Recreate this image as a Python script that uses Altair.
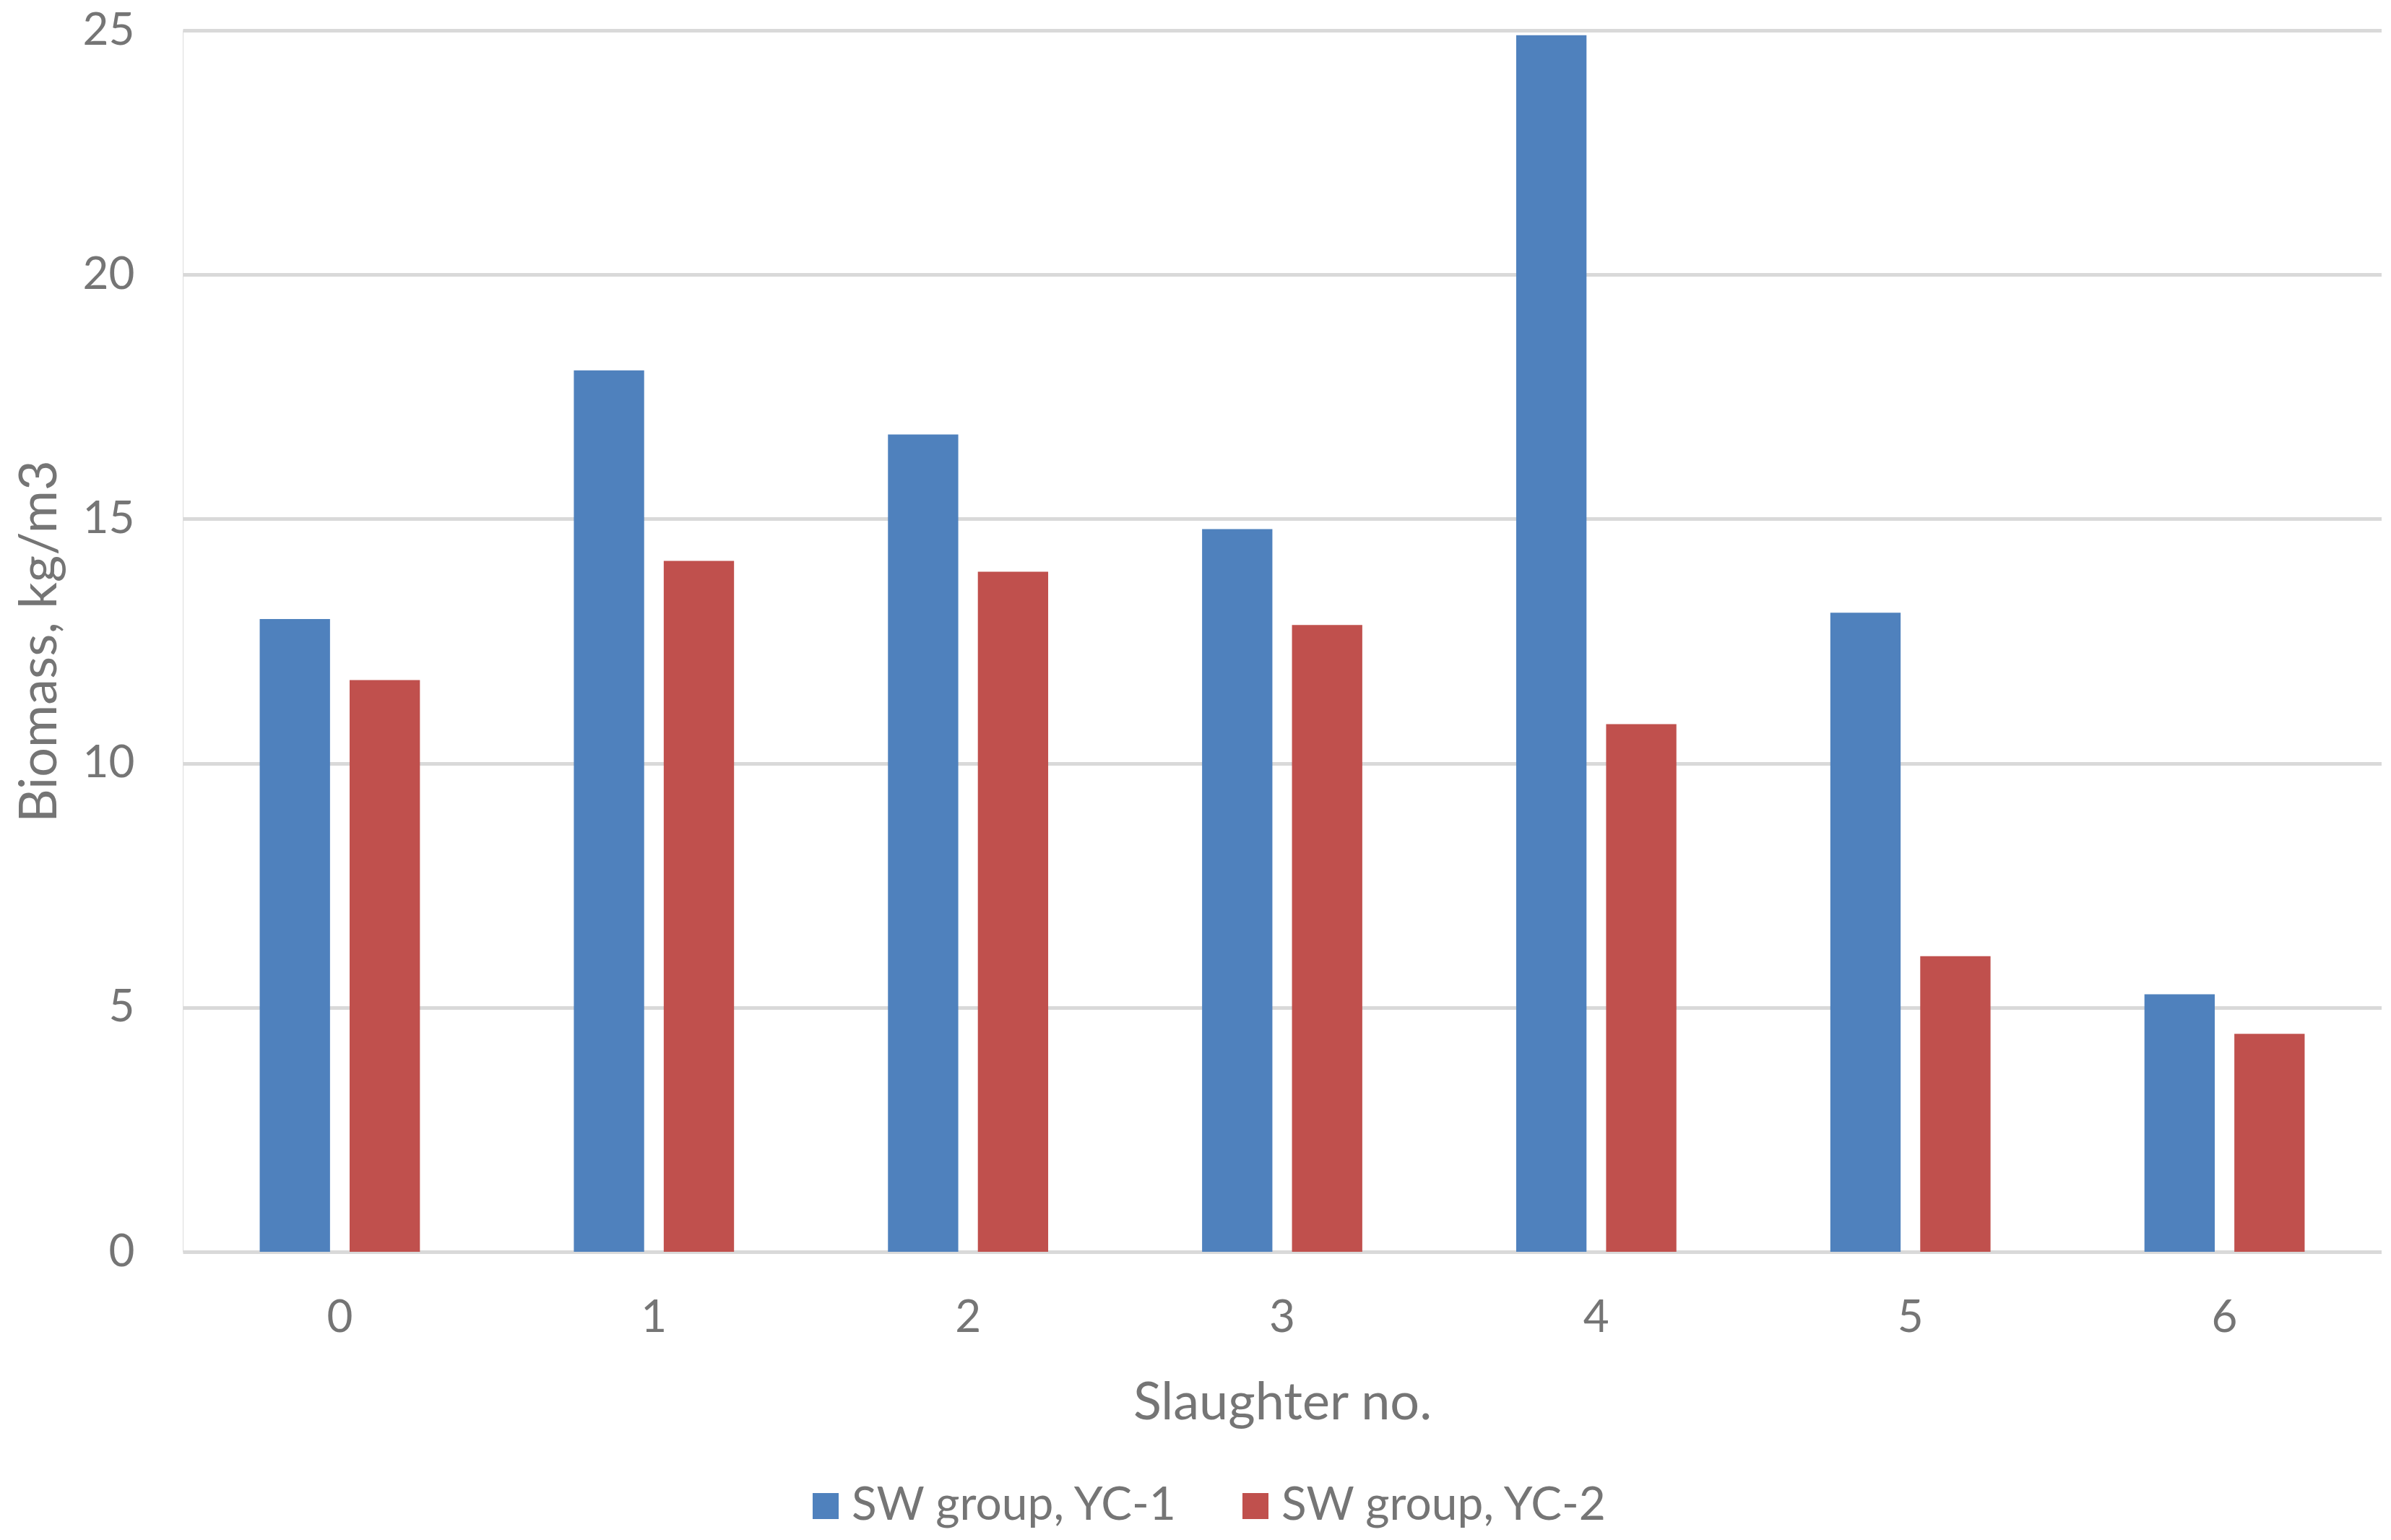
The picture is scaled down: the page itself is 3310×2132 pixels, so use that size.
import altair as alt
import pandas as pd

slaughter = ["0", "1", "2", "3", "4", "5", "6"]
series_names = ["SW group, YC-1", "SW group, YC-2"]
yc1 = [12.95, 18.04, 16.73, 14.79, 24.9, 13.08, 5.27]
yc2 = [11.70, 14.14, 13.92, 12.83, 10.80, 6.05, 4.46]
colors = ["#4F81BD", "#C0504D"]
y_ticks = [0, 5, 10, 15, 20, 25]

rows = []
for i, s in enumerate(slaughter):
    rows.append({"slaughter": s, "series": series_names[0], "value": yc1[i]})
    rows.append({"slaughter": s, "series": series_names[1], "value": yc2[i]})
df = pd.DataFrame(rows)

FONT = "Lato"
TXT = "#757575"
W, H = 3044, 1691

chart = alt.Chart(df).mark_bar().encode(
    x=alt.X("slaughter:N", sort=slaughter,
            scale=alt.Scale(paddingInner=0.49, paddingOuter=0.245),
            axis=alt.Axis(title="Slaughter no.", labelAngle=0, ticks=False, domain=False,
                          labelPadding=91, labelBaseline="middle",
                          labelFontSize=62, labelFont=FONT, labelColor=TXT,
                          titleFontSize=72, titleFont=FONT, titleColor=TXT, titleFontWeight="normal",
                          titleY=209, titleBaseline="middle")),
    xOffset=alt.XOffset("series:N", sort=series_names, scale=alt.Scale(paddingInner=0.218)),
    y=alt.Y("value:Q", scale=alt.Scale(domain=[0, 25], nice=False),
            axis=alt.Axis(title="Biomass, kg/m3", values=y_ticks, ticks=False, domain=False,
                          labelPadding=67, labelBaseline="middle",
                          labelFontSize=62, labelFont=FONT, labelColor=TXT,
                          gridColor="#d9d9d9", gridWidth=5,
                          titleFontSize=72, titleFont=FONT, titleColor=TXT, titleFontWeight="normal",
                          titleX=-198, titleY=H / 2, titleBaseline="middle", titleAlign="center")),
    color=alt.Color("series:N", sort=series_names,
                    scale=alt.Scale(domain=series_names, range=colors),
                    legend=alt.Legend(title=None, orient="none", direction="horizontal",
                                      legendX=858, legendY=2011, symbolType="square",
                                      symbolSize=1296, symbolStrokeWidth=0, labelFontSize=64,
                                      labelFont=FONT, labelColor=TXT, labelOffset=4,
                                      labelLimit=0, columnPadding=74, padding=0)),
).properties(
    width=W, height=H,
    autosize=alt.AutoSizeParams(type="none"),
    padding={"left": 245, "top": 34, "right": 0, "bottom": 390},
).configure_view(stroke=None).configure(background="white")

chart.save("out.html", embed_options={"renderer": "svg", "actions": False})
